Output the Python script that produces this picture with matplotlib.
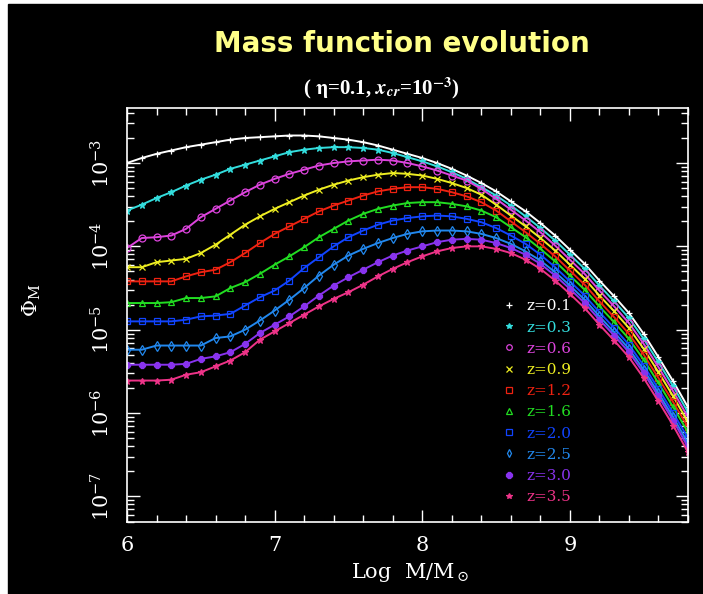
import numpy as np
import matplotlib.pyplot as plt
from matplotlib.lines import Line2D
from matplotlib.patches import Rectangle
from matplotlib.ticker import LogLocator, MultipleLocator, NullFormatter

# log10 M grid
log_m = [6.0, 6.1, 6.2, 6.3, 6.4, 6.5, 6.6, 6.7, 6.8, 6.9,
         7.0, 7.1, 7.2, 7.3, 7.4, 7.5, 7.6, 7.7, 7.8, 7.9,
         8.0, 8.1, 8.2, 8.3, 8.4, 8.5, 8.6, 8.7, 8.8, 8.9,
         9.0, 9.1, 9.2, 9.3, 9.4, 9.5, 9.6, 9.7, 9.8]

# log10 Phi_M for each redshift
phi_z01 = [-3.00, -2.94, -2.89, -2.85, -2.81, -2.78, -2.75, -2.72, -2.70, -2.69,
           -2.68, -2.67, -2.67, -2.68, -2.70, -2.72, -2.75, -2.79, -2.84, -2.89,
           -2.94, -3.00, -3.07, -3.15, -3.24, -3.34, -3.46, -3.58, -3.72, -3.87,
           -4.04, -4.21, -4.41, -4.60, -4.80, -5.05, -5.33, -5.62, -5.93]
phi_z03 = [-3.57, -3.50, -3.42, -3.35, -3.27, -3.20, -3.14, -3.07, -3.02, -2.97,
           -2.92, -2.87, -2.84, -2.82, -2.81, -2.81, -2.82, -2.84, -2.88, -2.93,
           -2.98, -3.04, -3.11, -3.19, -3.29, -3.39, -3.51, -3.64, -3.78, -3.93,
           -4.10, -4.27, -4.47, -4.66, -4.86, -5.11, -5.39, -5.68, -5.99]
phi_z06 = [-4.02, -3.90, -3.89, -3.87, -3.79, -3.65, -3.55, -3.45, -3.35, -3.26,
           -3.19, -3.13, -3.08, -3.03, -3.00, -2.98, -2.97, -2.96, -2.97, -3.00,
           -3.04, -3.09, -3.15, -3.21, -3.31, -3.43, -3.56, -3.69, -3.83, -3.99,
           -4.16, -4.33, -4.53, -4.72, -4.92, -5.17, -5.45, -5.74, -6.05]
phi_z09 = [-4.25, -4.25, -4.19, -4.17, -4.15, -4.08, -3.98, -3.86, -3.74, -3.64,
           -3.55, -3.47, -3.39, -3.32, -3.26, -3.21, -3.17, -3.14, -3.12, -3.13,
           -3.15, -3.19, -3.24, -3.30, -3.38, -3.50, -3.63, -3.76, -3.90, -4.05,
           -4.22, -4.39, -4.59, -4.78, -4.98, -5.23, -5.51, -5.80, -6.11]
phi_z12 = [-4.42, -4.42, -4.42, -4.42, -4.36, -4.31, -4.28, -4.19, -4.08, -3.96,
           -3.85, -3.76, -3.67, -3.58, -3.51, -3.45, -3.39, -3.34, -3.31, -3.29,
           -3.29, -3.31, -3.35, -3.40, -3.47, -3.57, -3.70, -3.83, -3.97, -4.12,
           -4.29, -4.46, -4.66, -4.85, -5.05, -5.30, -5.58, -5.87, -6.17]
phi_z16 = [-4.68, -4.68, -4.68, -4.67, -4.62, -4.62, -4.60, -4.50, -4.43, -4.33,
           -4.22, -4.12, -4.01, -3.89, -3.79, -3.69, -3.61, -3.55, -3.51, -3.48,
           -3.47, -3.47, -3.49, -3.52, -3.57, -3.65, -3.77, -3.89, -4.03, -4.18,
           -4.35, -4.52, -4.72, -4.91, -5.11, -5.36, -5.64, -5.93, -6.23]
phi_z20 = [-4.90, -4.90, -4.90, -4.90, -4.88, -4.84, -4.83, -4.81, -4.71, -4.61,
           -4.53, -4.41, -4.26, -4.13, -4.00, -3.89, -3.81, -3.74, -3.69, -3.66,
           -3.64, -3.63, -3.64, -3.67, -3.71, -3.78, -3.87, -3.97, -4.10, -4.25,
           -4.42, -4.59, -4.79, -4.98, -5.18, -5.43, -5.71, -6.00, -6.30]
phi_z25 = [-5.24, -5.24, -5.19, -5.19, -5.19, -5.19, -5.10, -5.08, -5.00, -4.89,
           -4.77, -4.64, -4.50, -4.35, -4.22, -4.11, -4.03, -3.96, -3.90, -3.85,
           -3.82, -3.81, -3.81, -3.82, -3.85, -3.90, -3.97, -4.06, -4.17, -4.31,
           -4.47, -4.64, -4.84, -5.03, -5.23, -5.48, -5.76, -6.05, -6.36]
phi_z30 = [-5.42, -5.42, -5.42, -5.42, -5.41, -5.35, -5.32, -5.27, -5.17, -5.04,
           -4.94, -4.84, -4.72, -4.59, -4.47, -4.37, -4.28, -4.19, -4.11, -4.05,
           -4.00, -3.95, -3.92, -3.91, -3.92, -3.96, -4.02, -4.10, -4.21, -4.35,
           -4.51, -4.68, -4.88, -5.07, -5.27, -5.52, -5.80, -6.09, -6.41]
phi_z35 = [-5.61, -5.61, -5.61, -5.60, -5.54, -5.51, -5.44, -5.37, -5.27, -5.12,
           -5.02, -4.92, -4.82, -4.72, -4.63, -4.55, -4.46, -4.36, -4.27, -4.19,
           -4.12, -4.06, -4.02, -4.00, -4.00, -4.03, -4.08, -4.16, -4.27, -4.41,
           -4.57, -4.74, -4.94, -5.13, -5.33, -5.58, -5.86, -6.15, -6.47]

labels = ['z=0.1', 'z=0.3', 'z=0.6', 'z=0.9', 'z=1.2',
          'z=1.6', 'z=2.0', 'z=2.5', 'z=3.0', 'z=3.5']
series = [phi_z01, phi_z03, phi_z06, phi_z09, phi_z12,
          phi_z16, phi_z20, phi_z25, phi_z30, phi_z35]
colors = ['#ffffff', '#33dddd', '#dd44dd', '#eeee22', '#ee2211',
          '#22dd22', '#1144ff', '#2288ee', '#8833ee', '#ee3388']
markers = ['+', '*', 'o', 'x', 's', '^', 's', 'd', '8', '*']
filled = [True, True, False, True, False, False, False, False, True, True]

fig = plt.figure(figsize=(7.03, 5.94), dpi=100, facecolor='white')
fig.patches.append(Rectangle((8 / 703, 0), 694 / 703, 590 / 594,
                             transform=fig.transFigure, color='black', zorder=-10))

ax = fig.add_axes([127 / 703, 72 / 594, 561 / 703, 414 / 594])
ax.set_facecolor('black')

x = np.array(log_m)
for s, c, m, f in zip(series, colors, markers, filled):
    ax.plot(x, 10 ** np.array(s), color=c, lw=1.4, marker=m, ms=5,
            mfc=c if f else 'none', mec=c, mew=0.9)

ax.set_yscale('log')
ax.set_xlim(6, 9.8)
ax.set_ylim(10 ** -7.307, 10 ** -2.34)

# ticks
ax.xaxis.set_major_locator(MultipleLocator(1))
ax.xaxis.set_minor_locator(MultipleLocator(0.2))
ax.yaxis.set_major_locator(LogLocator(base=10, numticks=20))
ax.yaxis.set_minor_locator(LogLocator(base=10, subs=np.arange(2, 10), numticks=20))
ax.yaxis.set_minor_formatter(NullFormatter())
ax.tick_params(which='both', direction='in', colors='white', top=True, right=True)
ax.tick_params(which='major', length=9, width=1)
ax.tick_params(which='minor', length=5, width=1)
ax.tick_params(axis='x', pad=10, labelsize=15)
ax.tick_params(axis='y', pad=10, labelsize=15, labelrotation=90)
for lab in ax.get_xticklabels() + ax.get_yticklabels():
    lab.set_family('DejaVu Serif')
    lab.set_math_fontfamily('dejavuserif')
for lab in ax.get_yticklabels():
    lab.set_verticalalignment('center')
for sp in ax.spines.values():
    sp.set_color('white')
    sp.set_linewidth(1.2)

ax.set_xlabel(r'Log  M/M$_\odot$', color='white', fontsize=15,
              family='DejaVu Serif', math_fontfamily='dejavuserif')
ax.xaxis.set_label_coords(0.504, -0.095)
ax.set_ylabel(r'$\Phi_{\rm M}$', color='white', fontsize=15,
              math_fontfamily='dejavuserif')
ax.yaxis.set_label_coords(-0.15, 0.536)

# legend
handles = [Line2D([], [], ls='none', marker=m, color=c, ms=4,
                  mfc=c if f else 'none', mec=c, mew=0.9)
           for c, m, f in zip(colors, markers, filled)]
leg = ax.legend(handles, labels, loc='upper left', bbox_to_anchor=(0.657, 0.556),
                frameon=False, handlelength=0.8, handletextpad=0.7,
                labelspacing=0.47, borderpad=0,
                prop={'family': 'DejaVu Serif', 'size': 11},
                labelcolor=colors)

fig.text(0.572, 0.926, 'Mass function evolution', color='#ffff88',
         fontsize=20, fontweight='bold', family='DejaVu Sans',
         ha='center', va='center')
fig.text(0.542, 0.851, r'( $\mathbf{\eta}$=0.1, $\mathbfit{x}_{\mathbfit{cr}}$=10$^{\mathbf{-3}}$)',
         color='white', fontsize=15, fontweight='bold', family='Liberation Serif',
         math_fontfamily='stix', ha='center', va='center')

fig.savefig('out.png', dpi=100, facecolor=fig.get_facecolor())
